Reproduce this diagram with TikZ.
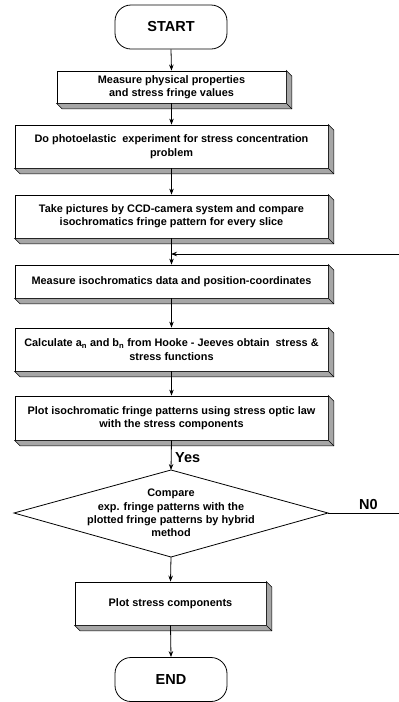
\documentclass[tikz,border=0pt]{standalone}
\usepackage{fontspec}
\setmainfont{Liberation Sans}
\usetikzlibrary{arrows.meta}
\tikzset{
  base/.style={draw=black, line width=0.8pt, fill=white, inner sep=0pt, align=center,
    font=\bfseries\fontsize{10.9}{13.4}\selectfont},
  procbox/.style={base, rectangle},
  termbox/.style={base, rectangle, rounded corners=16pt, minimum width=112pt, minimum height=44pt,
    font=\bfseries\fontsize{14.5}{16}\selectfont},
  conn/.style={line width=0.8pt, -{Stealth[length=6pt,width=4.5pt]}},
  plain/.style={line width=0.8pt},
  lbl/.style={font=\bfseries\fontsize{14.5}{16}\selectfont, inner sep=0pt},
  shade/.style={fill=black!35, draw=black, line width=0.6pt, line join=miter}
}
\newcommand{\extrude}[1]{%
  \filldraw[shade] (#1.north east) -- ([shift={(5.5,5.5)}]#1.north east)
    -- ([shift={(5.5,5.5)}]#1.south east) -- ([shift={(5.5,5.5)}]#1.south west)
    -- (#1.south west) -- (#1.south east) -- cycle;
  \draw[line width=0.6pt] (#1.south east) -- ([shift={(5.5,5.5)}]#1.south east);
}
\begin{document}
\begin{tikzpicture}[x=1pt,y=-1pt]
\useasboundingbox (0,0) rectangle (399,702);
\fill[white] (0,0) rectangle (399,702);

\node[termbox] (start) at (171,27) {START};

\node[procbox, minimum width=229pt, minimum height=32pt] (b1) at (171.5,87)
  {Measure physical properties\\and stress fringe values};
\extrude{b1}

\node[procbox, minimum width=313pt, minimum height=43pt] (b2) at (171.5,146.5)
  {Do photoelastic~ experiment for stress concentration\\problem};
\extrude{b2}

\node[procbox, minimum width=313pt, minimum height=43pt] (b3) at (171.5,216.5)
  {Take pictures by CCD-camera system and compare\\isochromatics fringe pattern for every slice};
\extrude{b3}

\node[procbox, minimum width=313pt, minimum height=33pt] (b4) at (171.5,281.5)
  {Measure isochromatics data and position-coordinates};
\extrude{b4}

\node[procbox, minimum width=313pt, minimum height=43pt] (b5) at (171.5,349.5)
  {Calculate a\textsubscript{n} and b\textsubscript{n} from Hooke - Jeeves obtain~ stress \&\\stress functions};
\extrude{b5}

\node[procbox, minimum width=313pt, minimum height=44pt] (b6) at (171.5,418)
  {Plot isochromatic fringe patterns using stress optic law\\with the stress components};
\extrude{b6}

% decision diamond
\coordinate (dtop) at (171,470);
\coordinate (dbot) at (171,557);
\coordinate (dleft) at (14,513);
\coordinate (dright) at (328,513);
\draw[plain, line join=miter, fill=white] (dtop) -- (dright) -- (dbot) -- (dleft) -- cycle;
\node[base, draw=none, fill=none] (dtext) at (171,513)
  {Compare\\exp. fringe patterns with the\\plotted fringe patterns by hybrid\\method};

\node[procbox, minimum width=191pt, minimum height=43pt] (b7) at (170.5,603.5)
  {Plot stress components};
\extrude{b7}

\node[termbox] (end) at (171,679.5) {END};

% connectors
\draw[conn] (start.south) -- (b1.north);
\draw[conn] (b1.south) -- (b2.north);
\draw[conn] (b2.south) -- (b3.north);
\draw[conn] (b3.south) -- (b4.north);
\draw[conn] (b4.south) -- (b5.north);
\draw[conn] (b5.south) -- (b6.north);
\draw[conn] (b6.south) -- (dtop);
\draw[conn] (dbot) -- (b7.north);
\draw[conn] (b7.south) -- (end.north);

% feedback
\coordinate (fbR) at (399,254);
\coordinate (fbL) at (171,254);
\draw[conn] (fbR) -- (fbL);
\coordinate (noR) at (399,513);
\draw[plain] (dright) -- (noR);

\node[lbl, anchor=west] (yes) at (175,458) {Yes};
\node[lbl] (no) at (368.5,504.5) {N0};
\end{tikzpicture}
\end{document}
